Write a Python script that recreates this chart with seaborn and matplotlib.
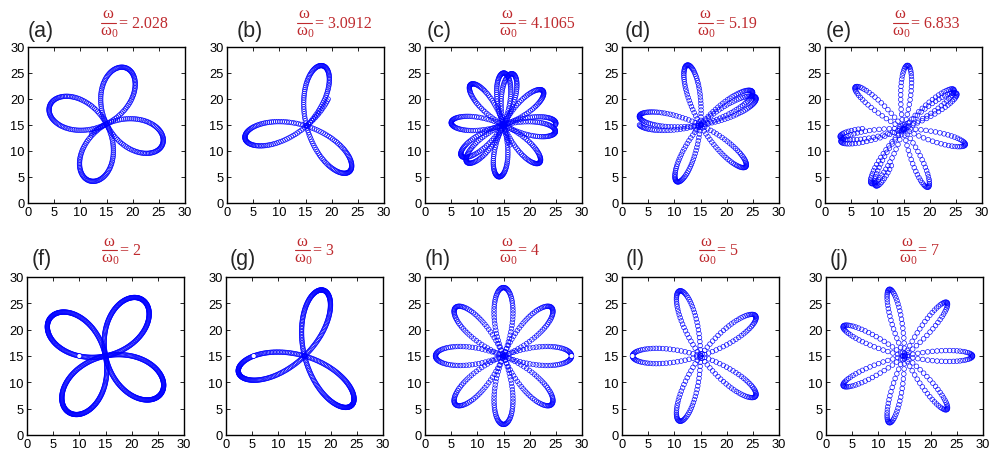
import numpy as np
import matplotlib
matplotlib.use("Agg")
import matplotlib.pyplot as plt
from matplotlib.lines import Line2D
import seaborn as sns
import pandas as pd

# ---------------- data ----------------
panel_labels = ['(a)', '(b)', '(c)', '(d)', '(e)', '(f)', '(g)', '(h)', '(l)', '(j)']
ratio_text = ['2.028', '3.0912', '4.1065', '5.19', '6.833', '2', '3', '4', '5', '7']
freq_ratio = [2.028, 3.0912, 4.1065, 5.19, 6.833, 2, 3, 4, 5, 7]
petal_length = [11.4, 12.0, 10.0, 11.8, 12.2, 12.8, 13.0, 13.0, 13.0, 13.0]
petal_angle_deg = [-15, 75, 2, 33, 139, 56.5, 73.9, 0, 36, 0]
start_angle_deg = [29.4, 46, 0, 0, 0, 0, 0, 0, 0, 0]
sweep_pi = [2.02, 1.03, 2.6, 1.25, 1.4, 2, 1, 2, 1, 1]
n_samples = [360, 260, 640, 360, 360, 700, 400, 480, 260, 290]
center_x = [15, 15.2, 15, 15, 15, 15, 15, 15, 15, 15]
center_y = [15.2, 14.8, 15, 15, 14.3, 15, 15, 15, 15, 15]
start_marker = [False, False, False, False, False, True, True, True, True, False]
tick_values = [0, 5, 10, 15, 20, 25, 30]

# ---------------- layout (figure pixels) ----------------
W, H = 993, 452
ax_left_px = [28, 227, 425, 622, 825, 27, 226, 425, 622, 826]
ax_top_px = [48] * 5 + [278] * 5
ax_bot_px = [204] * 5 + [436] * 5
ax_w_px = 157
label_dx_px = [0, 10, 2, 3, 1, 5, 4, 0, 4, 4]
title_x_px = [101, 297, 500, 698, 893, 102, 295, 500, 699, 900]
bar_y_px = [24] * 5 + [251] * 5
label_y_px = [32] * 5 + [260] * 5
title_color = '#bf2a2e'

sns.set_style("ticks")
plt.rcParams['font.family'] = ['Liberation Sans', 'DejaVu Sans']
plt.rcParams['mathtext.fontset'] = 'custom'
plt.rcParams['mathtext.rm'] = 'Liberation Serif'
plt.rcParams['mathtext.it'] = 'Liberation Serif:italic'
plt.rcParams['xtick.direction'] = 'in'
plt.rcParams['ytick.direction'] = 'in'

fig = plt.figure(figsize=(W / 100, H / 100), dpi=100)
fig.patch.set_facecolor('white')


def fx(px):
    return px / W


def fy(py):
    return 1 - py / H


serif = ['Liberation Serif', 'DejaVu Serif']

for i in range(10):
    l = ax_left_px[i] / W
    b = 1 - ax_bot_px[i] / H
    h = (ax_bot_px[i] - ax_top_px[i]) / H
    ax = fig.add_axes([l, b, ax_w_px / W, h])

    k = freq_ratio[i]
    A = petal_length[i]
    phi = np.deg2rad(petal_angle_deg[i])
    t0 = np.deg2rad(start_angle_deg[i])
    theta = np.linspace(t0, t0 + sweep_pi[i] * np.pi, n_samples[i])
    r = A * np.cos(k * (theta - phi))
    x = center_x[i] + r * np.cos(theta)
    y = center_y[i] + r * np.sin(theta)
    df = pd.DataFrame({'x': x, 'y': y})

    sns.scatterplot(data=df, x='x', y='y', ax=ax, marker='o', s=11,
                    facecolors='none', edgecolor='#0000ff', linewidth=0.45)
    if start_marker[i]:
        sns.scatterplot(x=[x[0]], y=[y[0]], color='white', s=9,
                        edgecolor='none', ax=ax, zorder=5)

    ax.set_xlim(0, 30)
    ax.set_ylim(0, 30)
    ax.set_xticks(tick_values)
    ax.set_yticks(tick_values)
    ax.set_xlabel('')
    ax.set_ylabel('')
    ax.tick_params(axis='both', which='both', direction='in', top=True,
                   right=True, length=3, width=0.6, labelsize=9.3, pad=2.5,
                   colors='black')
    for sp in ax.spines.values():
        sp.set_visible(True)
        sp.set_linewidth(1.0)
        sp.set_color('black')

    # panel label
    fig.text(fx(ax_left_px[i] + label_dx_px[i]), fy(label_y_px[i]),
             panel_labels[i], fontsize=15.5, ha='left', va='center',
             family=['Liberation Sans', 'DejaVu Sans'])

    # title: omega / omega_0 = value
    tx = title_x_px[i]
    by = bar_y_px[i]
    fig.text(fx(tx + 7), fy(by - 5.5), r'$\mathrm{\omega}$', fontsize=12,
             ha='center', va='baseline', color=title_color, family=serif)
    fig.add_artist(Line2D([fx(tx), fx(tx + 15)], [fy(by), fy(by)],
                          transform=fig.transFigure, color=title_color,
                          linewidth=0.8))
    fig.text(fx(tx + 8), fy(by + 12), r'$\mathrm{\omega}_0$', fontsize=12,
             ha='center', va='baseline', color=title_color, family=serif)
    fig.text(fx(tx + 18), fy(by), '= ' + ratio_text[i], fontsize=11.5,
             ha='left', va='center', color=title_color, family=serif)

fig.savefig('out.png', dpi=100, facecolor='white')
